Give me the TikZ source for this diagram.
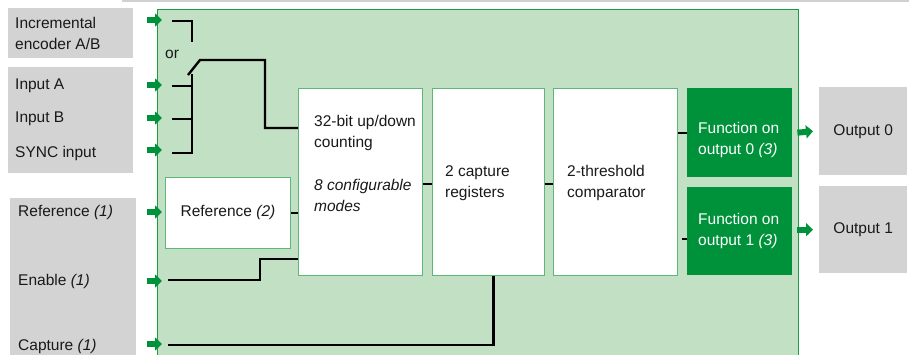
\documentclass[tikz,border=0pt]{standalone}
\usepackage{fontspec}
\setmainfont{Liberation Sans}
\usetikzlibrary{arrows.meta,positioning}

\definecolor{panelgreen}{HTML}{C2E0C3}
\definecolor{rimgreen}{HTML}{1F9A42}
\definecolor{edgegreen}{HTML}{5DB777}
\definecolor{darkgreen}{HTML}{00923A}
\definecolor{boxgray}{HTML}{D3D3D3}
\definecolor{rulegray}{HTML}{D0D0D0}

\tikzset{
  graybox/.style={fill=boxgray, draw=none, anchor=north west, inner sep=0pt,
    font=\fontsize{15.5}{21.5}\selectfont, text=black!90},
  whitebox/.style={fill=white, draw=edgegreen, line width=0.9pt, anchor=north west, inner sep=0pt,
    font=\fontsize{15.5}{21.5}\selectfont, text=black!90},
  fnbox/.style={fill=darkgreen, draw=none, anchor=north west, inner sep=0pt},
  txt/.style={anchor=west, inner sep=0pt, font=\fontsize{15.5}{21.5}\selectfont, text=black!90},
  wire/.style={line width=2.4pt, black},
  inarrow/.style={draw=darkgreen, line width=6pt, -{Triangle[length=7pt,width=13pt]}},
}

\begin{document}
\begin{tikzpicture}[x=1pt, y=-1pt]
  \useasboundingbox (0,0) rectangle (909,354);
  \begin{scope}
    \clip (0,0) rectangle (909,354);
    % top rule
    \draw[rulegray, line width=1.5pt] (122,0.8) -- (909,0.8);
    % Boxes:
    \node[graybox, minimum width=125pt, minimum height=50pt] (enc) at (8,8) {};
    \node[graybox, minimum width=125pt, minimum height=106pt] (inp) at (8,67) {};
    \node[graybox, minimum width=126pt, minimum height=170pt] (ctl) at (10,198) {};
    \node[fill=panelgreen, draw=rimgreen, line width=1.2pt, anchor=north west, inner sep=0pt,
      minimum width=641pt, minimum height=360pt] (panel) at (157,9) {};
    \node[whitebox, minimum width=124pt, minimum height=187pt] (cnt) at (298,88) {};
    \node[whitebox, minimum width=112pt, minimum height=187pt] (cap) at (432,88) {};
    \node[whitebox, minimum width=124pt, minimum height=187pt] (cmp) at (553,88) {};
    \node[whitebox, minimum width=125pt, minimum height=71pt] (ref) at (165,177) {Reference \textit{(2)}};
    \node[fnbox, minimum width=105pt, minimum height=89pt] (fn0) at (687,88) {};
    \node[fnbox, minimum width=105pt, minimum height=88pt] (fn1) at (687,187) {};
    \node[graybox, minimum width=88pt, minimum height=88pt] (out0) at (819,87) {Output 0};
    \node[graybox, minimum width=88pt, minimum height=87pt] (out1) at (819,186) {Output 1};

    % Texts:
    \node[txt, anchor=north west, align=left] (encTxt) at (15,17) {Incremental\\encoder A/B};
    \node[txt] (inA) at (15,86) {Input A};
    \node[txt] (inB) at (15,119) {Input B};
    \node[txt] (inSync) at (15,153) {SYNC input};
    \node[txt] (refTxt) at (18,212) {Reference \textit{(1)}};
    \node[txt] (enaTxt) at (18,281) {Enable \textit{(1)}};
    \node[txt] (capTxt) at (18,346) {Capture \textit{(1)}};
    \node[txt] (orTxt) at (165,54) {or};
    \node[txt, anchor=north west, align=left] (cntTxt) at (314,115)
      {32-bit up/down\\counting\\[21pt]\textit{8 configurable}\\\textit{modes}};
    \node[txt, anchor=north west, align=left] (capRegTxt) at (445,165) {2 capture\\registers};
    \node[txt, anchor=north west, align=left] (cmpTxt) at (567,165) {2-threshold\\comparator};
    \node[txt, anchor=north west, align=left, text=white] (fn0Txt) at (698,122) {Function on\\output 0 \textit{(3)}};
    \node[txt, anchor=north west, align=left, text=white] (fn1Txt) at (698,213) {Function on\\output 1 \textit{(3)}};

    % Input arrows:
    \foreach \name/\yy in {aEnc/20, aInA/85, aInB/118, aSync/150, aRef/212, aEna/281, aCap/344} {
      \coordinate (\name) at (147,\yy);
      \draw[inarrow, shorten >=-5pt] (\name) -- (\name -| panel.west);
    }
    % Paths and wires:
    \coordinate (sw) at (192,74);
    \draw[wire] (172,21) -| (192,42);
    \draw[wire] (sw |- inA) ++(-20,0) -- (sw |- inA);
    \draw[wire] (sw |- inB) ++(-20,0) -- (sw |- inB);
    \draw[wire] (sw |- inSync) ++(-20,0) -| (sw);
    \draw[wire] (188,75) -- (200,60) -| (265,128) -- (cnt.west |- 0,128);
    \draw[wire] (ref.east) -- (ref.east -| cnt.west);
    \draw[wire] (168,280) -| (260,259) -- (cnt.west |- 0,259);
    \draw[wire] (168,345) -| ([xshift=5pt]cap.south);
    \draw[wire] (cnt.east |- 0,184) -- (cap.west |- 0,184);
    \draw[wire] (cap.east |- 0,184) -- (cmp.west |- 0,184);
    \draw[wire] (cmp.east |- fn0.west) -- (fn0.west);
    \draw[wire] ([yshift=-8pt]fn1.west) -- ++(-5,0);

    % Output arrows:
    \draw[inarrow] ([xshift=5pt]fn0.east) -- ([xshift=-6pt]out0.west);
    \draw[inarrow] ([xshift=5pt]fn1.east |- out1.west) -- ([xshift=-6pt]out1.west);
  \end{scope}
\end{tikzpicture}
\end{document}
